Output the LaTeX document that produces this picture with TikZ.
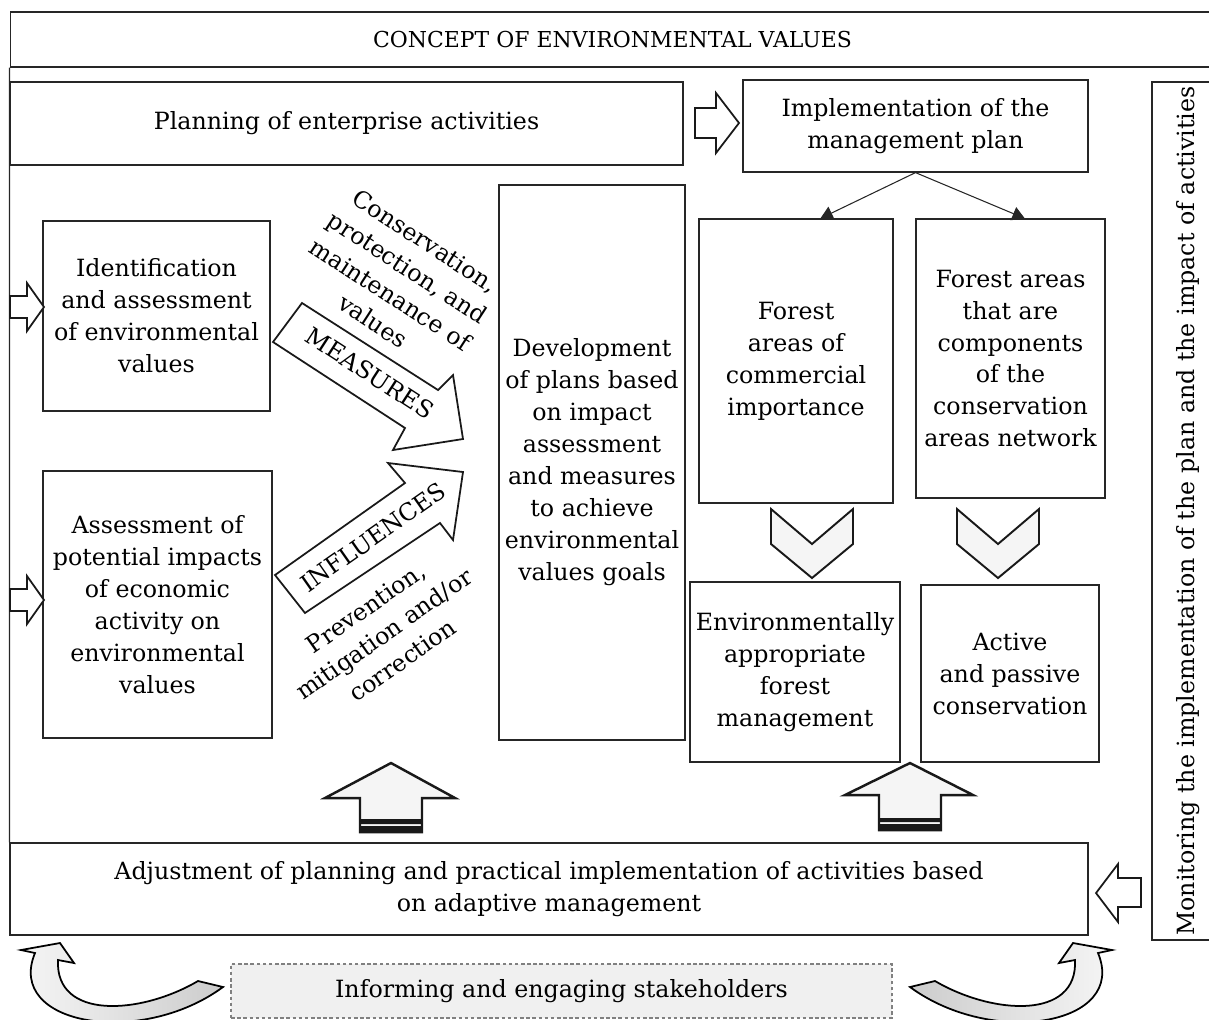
\documentclass[tikz,border=0pt]{standalone}
\usepackage{fontspec}
\setmainfont{DejaVu Serif}
\usetikzlibrary{arrows.meta,calc}

\newcommand{\boxfont}{\fontsize{13.5}{18.2}\selectfont}

\begin{document}
\begin{tikzpicture}[x=0.02cm,y=-0.02cm,font=\boxfont,
  box/.style={draw=black!85,line width=0.7pt,inner sep=0pt,align=center},
  hollow/.style={draw=black!90,line width=1pt,fill=white,line join=miter},
  block/.style={draw=black!90,line width=1.4pt,fill=gray!8,line join=miter},
  link/.style={draw=black!85,line width=0.6pt,-{Triangle[width=8pt,length=7pt]}}]

\useasboundingbox (0,0) rectangle (1209,1019);

% headers and frame
\node[box,minimum width=24.1cm,minimum height=1.1cm,font=\fontsize{12.5}{15}\selectfont]
    (title) at (612.5,39.5) {CONCEPT OF ENVIRONMENTAL VALUES};

\node[box,minimum width=13.46cm,minimum height=1.66cm] (plan) at (346.5,123.5)
    {Planning of enterprise activities};

\node[box,minimum width=6.9cm,minimum height=1.84cm] (impl) at (915.5,126)
    {Implementation of the\\management plan};

\node[box,rotate=90,minimum width=17.16cm,minimum height=1.44cm] (monitor) at (1188,511)
    {Monitoring the implementation of the plan and the impact of activities};

\node[box,minimum width=21.56cm,minimum height=1.84cm] (adjust) at (549,889)
    {Adjustment of planning and practical implementation of activities based\\on adaptive management};

\draw[black!85,line width=0.7pt] (title.south west) -- (adjust.north west);

% left column
\node[box,minimum width=4.54cm,minimum height=3.8cm] (ident) at (156.5,316)
    {Identification\\and assessment\\of environmental\\values};

\node[box,minimum width=4.58cm,minimum height=5.34cm] (assess) at (157.5,604.5)
    {Assessment of\\potential impacts\\of economic\\activity on\\environmental\\values};

\draw[hollow] (10,296) -- (27,296) -- (27,283) -- (44,307) -- (27,331) -- (27,318) -- (10,318) -- cycle;
\draw[hollow] (10,589) -- (27,589) -- (27,576) -- (44,600) -- (27,624) -- (27,611) -- (10,611) -- cycle;

% measures and influences
\draw[hollow] (273,342) -- (302,303) -- (438,390) -- (453,375) -- (463,439) -- (393,450) -- (405,428) -- cycle;
\draw[hollow] (275,575) -- (405,483) -- (388,463) -- (463,472) -- (453,540) -- (440,523) -- (305,613) -- cycle;

\node[rotate=-33] (measlbl) at (370,373) {MEASURES};
\node[rotate=35] (inflbl) at (373,537) {INFLUENCES};

\node[rotate=-33,align=center] (conslbl) at (399,281)
    {Conservation,\\protection, and\\maintenance of\\values};
\node[rotate=35,align=center] (prevlbl) at (384,634)
    {Prevention,\\mitigation and/or\\correction};

\node[box,minimum width=3.72cm,minimum height=11.1cm] (devel) at (592,462.5)
    {Development\\of plans based\\on impact\\assessment\\and measures\\to achieve\\environmental\\values goals};

% right column
\draw[hollow] (695,108) -- (716,108) -- (716,93) -- (739,123) -- (716,153) -- (716,138) -- (695,138) -- cycle;

\node[box,minimum width=3.88cm,minimum height=5.68cm] (fcomm) at (796,361)
    {Forest\\areas of\\commercial\\importance};
\node[box,minimum width=3.78cm,minimum height=5.58cm] (fcons) at (1010.5,358.5)
    {Forest areas\\that are\\components\\of the\\conservation\\areas network};

\draw[link] (impl.south) -- ($(fcomm.north)!0.25!(fcomm.north east)$);
\draw[link] (impl.south) -- ($(fcons.north)!0.15!(fcons.north east)$);

\draw[block,line width=1.1pt] (771,509) -- (812,544) -- (853,509) -- (853,544) -- (812,578) -- (771,544) -- cycle;
\draw[block,line width=1.1pt] (957,509) -- (998,544) -- (1039,509) -- (1039,544) -- (998,578) -- (957,544) -- cycle;

\node[box,minimum width=4.2cm,minimum height=3.6cm] (envman) at (795,672)
    {Environmentally\\appropriate\\forest\\management};
\node[box,minimum width=3.56cm,minimum height=3.54cm] (active) at (1010,673.5)
    {Active\\and passive\\conservation};

% feedback arrows
\draw[block] (360,832) -- (360,798) -- (325,798) -- (391,763) -- (455,798) -- (422,798) -- (422,832) -- cycle;
\fill[black!90] (360,819) rectangle (422,824) (360,826) rectangle (422,832);
\draw[block] (879,830) -- (879,795) -- (845,795) -- (910,763) -- (973,795) -- (941,795) -- (941,830) -- cycle;
\fill[black!90] (879,818) rectangle (941,822) (879,824) rectangle (941,830);

\draw[hollow] (1141,878) -- (1118,878) -- (1118,864) -- (1096,893) -- (1118,922) -- (1118,907) -- (1141,907) -- cycle;

% stakeholders
\node[box,draw=gray,dash pattern=on 2pt off 1.5pt,fill=gray!12,minimum width=13.22cm,minimum height=1.08cm]
    (inform) at (561.5,991) {Informing and engaging stakeholders};

\shade[left color=gray!5,right color=gray!40,draw=black,line width=1pt,line join=miter]
    (223,987) -- (198,981) .. controls (140,1015) and (55,1020) .. (58,960)
    -- (74,963) -- (60,943) -- (21,950) -- (35,953)
    .. controls (5,1025) and (140,1048) .. (223,987) -- cycle;
\shade[left color=gray!40,right color=gray!5,draw=black,line width=1pt,line join=miter]
    (910,987) -- (935,981) .. controls (993,1015) and (1078,1020) .. (1075,960)
    -- (1059,963) -- (1073,943) -- (1112,950) -- (1098,953)
    .. controls (1128,1025) and (993,1048) .. (910,987) -- cycle;

\end{tikzpicture}
\end{document}
